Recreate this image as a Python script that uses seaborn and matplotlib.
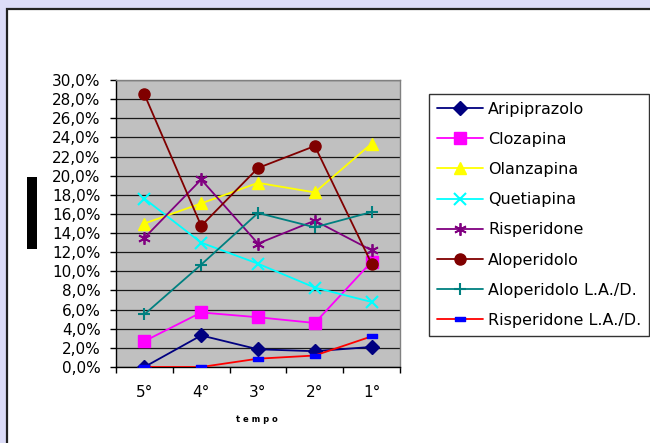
import matplotlib
matplotlib.use("Agg")
import matplotlib.pyplot as plt
import seaborn as sns
import pandas as pd
import numpy as np
from matplotlib.path import Path
from matplotlib.patches import Rectangle
from matplotlib.ticker import FixedLocator, FuncFormatter

# ---- data ----
categories = ["5°", "4°", "3°", "2°", "1°"]
aripiprazolo = [0.0, 3.3, 1.85, 1.65, 2.1]
clozapina = [2.7, 5.7, 5.2, 4.6, 11.0]
olanzapina = [15.0, 17.1, 19.25, 18.25, 23.35]
quetiapina = [17.6, 13.0, 10.8, 8.3, 6.8]
risperidone = [13.5, 19.6, 12.9, 15.3, 12.2]
aloperidolo = [28.5, 14.75, 20.8, 23.1, 10.8]
aloperidolo_lad = [5.5, 10.7, 16.1, 14.6, 16.2]
risperidone_lad = [0.0, 0.0, 0.87, 1.2, 3.2]

series_names = ["Aripiprazolo", "Clozapina", "Olanzapina", "Quetiapina",
                "Risperidone", "Aloperidolo", "Aloperidolo L.A./D.",
                "Risperidone L.A./D."]
series_values = [aripiprazolo, clozapina, olanzapina, quetiapina,
                 risperidone, aloperidolo, aloperidolo_lad, risperidone_lad]
y_ticks = [0, 2, 4, 6, 8, 10, 12, 14, 16, 18, 20, 22, 24, 26, 28, 30]

# ---- styles ----
dash_marker = Path([(-1, -0.45), (1, -0.45), (1, 0.45), (-1, 0.45), (-1, -0.45)],
                   [Path.MOVETO, Path.LINETO, Path.LINETO, Path.LINETO, Path.CLOSEPOLY])
styles = {
    "Aripiprazolo": dict(color="#000080", marker="D", ms=7, mfc="#000080", mec="#000080"),
    "Clozapina": dict(color="#ff00ff", marker="s", ms=8, mfc="#ff00ff", mec="#ff00ff"),
    "Olanzapina": dict(color="#ffff00", marker="^", ms=9, mfc="#ffff00", mec="#ffff00"),
    "Quetiapina": dict(color="#00ffff", marker="x", ms=8, mfc="#00ffff", mec="#00ffff", mew=1.5),
    "Risperidone": dict(color="#800080", marker=(6, 2, 0), ms=9, mfc="#800080", mec="#800080", mew=1.3),
    "Aloperidolo": dict(color="#800000", marker="o", ms=8, mfc="#800000", mec="#800000"),
    "Aloperidolo L.A./D.": dict(color="#008080", marker="+", ms=9, mfc="#008080", mec="#008080", mew=1.5),
    "Risperidone L.A./D.": dict(color="#ff0000", marker=dash_marker, ms=7, mfc="#0000ff", mec="#0000ff"),
}

df = pd.DataFrame({
    "tempo": np.tile(categories, len(series_names)),
    "valore": np.concatenate(series_values),
    "serie": np.repeat(series_names, len(categories)),
})

sns.set_theme(style="white")
plt.rcParams["font.family"] = ["DejaVu Sans"]
plt.rcParams["text.color"] = "black"

fig = plt.figure(figsize=(6.5, 4.43), dpi=100)
fig.patch.set_facecolor("#dcdcf8")
# white panel with border
fig.add_artist(Rectangle((7 / 650, -0.05), 1.1, 1 - 8.5 / 443 + 0.05, transform=fig.transFigure,
                         facecolor="white", edgecolor="#222222", linewidth=1.6, zorder=0))

ax = fig.add_axes([116 / 650, 1 - 367 / 443, 284 / 650, 287 / 443])
ax.set_facecolor("#c0c0c0")

for name in series_names:
    st = styles[name]
    sub = df[df["serie"] == name]
    sns.lineplot(data=sub, x="tempo", y="valore", ax=ax, sort=False, label=name,
                 color=st["color"], marker=st["marker"], markersize=st["ms"],
                 markerfacecolor=st["mfc"], markeredgecolor=st["mec"],
                 markeredgewidth=st.get("mew", 1.0), linewidth=1.3, zorder=3)

ax.set_xlim(-0.5, 4.5)
ax.set_ylim(0, 30)
ax.yaxis.set_major_locator(FixedLocator(y_ticks))
ax.yaxis.set_major_formatter(FuncFormatter(lambda v, p: f"{v:.1f}%".replace(".", ",")))
ax.set_xticks(range(len(categories)))
ax.set_xticklabels(categories)
ax.xaxis.set_minor_locator(FixedLocator(np.arange(-0.5, 5, 1.0)))
ax.tick_params(axis="x", which="major", length=0, pad=13, labelsize=11, colors="black")
ax.tick_params(axis="x", which="minor", length=4, width=1, direction="out", color="black", bottom=True)
ax.tick_params(axis="y", which="major", length=4, width=1, direction="out", left=True,
               pad=7, labelsize=11, colors="black")
ax.grid(axis="y", color="#1a1a1a", linewidth=0.9)
ax.set_axisbelow(True)
ax.set_xlabel("")
ax.set_ylabel("")
for s in ["left", "bottom"]:
    ax.spines[s].set_color("black")
    ax.spines[s].set_linewidth(1.0)
for s in ["top", "right"]:
    ax.spines[s].set_color("#808080")
    ax.spines[s].set_linewidth(1.0)

leg = ax.legend(loc="upper left", bbox_to_anchor=(429 / 650, 1 - 94 / 443),
                bbox_transform=fig.transFigure, frameon=True, fancybox=False,
                edgecolor="black", fontsize=11.5, labelcolor="black",
                handlelength=2.9, handletextpad=0.32,
                labelspacing=0.95, borderpad=0.48, borderaxespad=0)
leg.get_frame().set_linewidth(1.0)
leg.get_frame().set_facecolor("white")

fig.text(257 / 650, 1 - 420 / 443, "t e m p o", ha="center", va="center",
         fontsize=6, fontweight="bold", color="black")
# y-axis title box (rendered as a black block in the reference)
fig.add_artist(Rectangle((27 / 650, 1 - 249 / 443), 10 / 650, 72 / 443,
                         transform=fig.transFigure, facecolor="black", edgecolor="none"))

fig.savefig("out.png", dpi=100, facecolor=fig.get_facecolor())
